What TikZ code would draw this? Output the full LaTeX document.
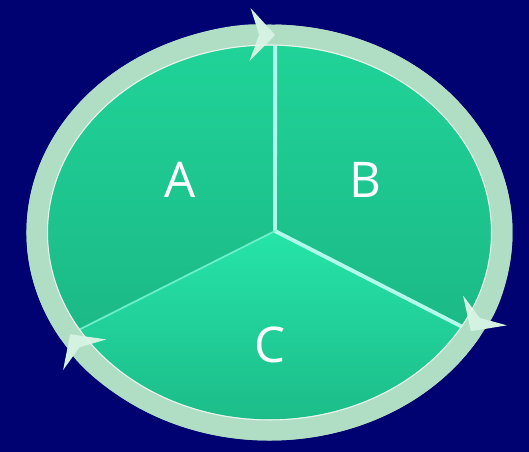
\documentclass[tikz,border=0pt]{standalone}
\usepackage{fontspec}
\setsansfont{Open Sans}
\usetikzlibrary{arrows.meta,calc}
\definecolor{navy}{RGB}{0,2,114}
\definecolor{sectortop}{RGB}{32,212,152}
\definecolor{sectorbot}{RGB}{26,176,128}
\definecolor{ctop}{RGB}{38,228,168}
\definecolor{cbot}{RGB}{26,180,130}
\definecolor{ringmint}{RGB}{176,222,196}
\definecolor{ringlite}{RGB}{212,242,226}
\definecolor{spokecyan}{RGB}{178,250,236}

\begin{document}
\begin{tikzpicture}[
    every node/.style={font=\sffamily\fontsize{28}{30}\selectfont, text=white},
    ring/.style={ringmint, line width=0.42cm, -{Stealth[length=0.5cm, width=1.05cm, inset=0.18cm, color=ringlite]}},
    spoke/.style={spokecyan, line width=2.2pt},
    rim/.style={white!70!ringmint, line width=0.6pt}
]

% Background
\fill[navy] (0,0) rectangle (10.58,9.04);
\useasboundingbox (0,0) rectangle (10.58,9.04);

% Centre of the wheel, hub of the spokes, points on the ring
\coordinate (mid) at (5.39,4.39);
\coordinate (hub) at (5.5,4.42);
\coordinate (top) at ($(mid)+(88.6:4.65cm and 3.95cm)$);
\coordinate (right) at ($(mid)+(-30:4.65cm and 3.95cm)$);
\coordinate (left) at ($(mid)+(211:4.65cm and 3.95cm)$);

% Sectors
\shade[top color=sectortop, bottom color=sectorbot] (mid) ellipse [x radius=4.65cm, y radius=3.95cm];
\shade[top color=ctop, bottom color=cbot] (hub) -- (left) arc[start angle=211, end angle=330, x radius=4.65cm, y radius=3.95cm] -- cycle;

% Spokes
\draw[spoke] (hub) -- (top);
\draw[spoke] (hub) -- (right);
\draw[spokecyan!50!ctop, line width=1pt] (hub) -- (left);

% Ring with arrows
\draw[ringmint, line width=0.42cm] (mid) ellipse [x radius=4.65cm, y radius=3.95cm];
\draw[ring] (top) arc[start angle=88.6, end angle=-30, x radius=4.65cm, y radius=3.95cm];
\draw[ring] (right) arc[start angle=-30, end angle=-149, x radius=4.65cm, y radius=3.95cm];
\draw[ring] (left) arc[start angle=211, end angle=88.6, x radius=4.65cm, y radius=3.95cm];
\draw[rim] (mid) ellipse [x radius=4.44cm, y radius=3.75cm];

% Labels
\node (A) at (3.6,5.44) {A};
\node (B) at (7.3,5.44) {B};
\node (C) at (5.4,2.14) {C};

\end{tikzpicture}
\end{document}
